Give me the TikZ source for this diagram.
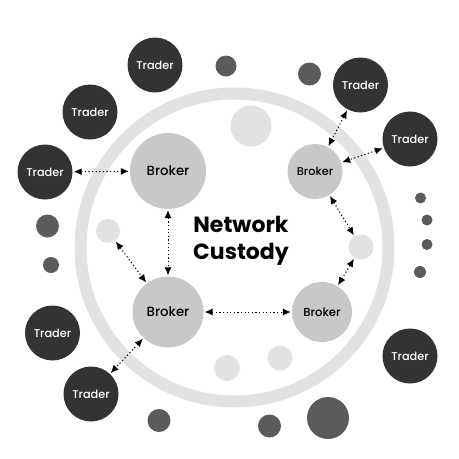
\documentclass[tikz,border=0pt]{standalone}
\usepackage{fontspec}
\setmainfont{Poppins}
\IfFontExistsTF{Poppins Medium}{\newfontfamily\lblfont{Poppins Medium}}{\newfontfamily\lblfont{Poppins}[FakeBold=1.5]}
\newfontfamily\ttlfont{Poppins Bold}
\usetikzlibrary{arrows.meta}
\definecolor{tdark}{HTML}{333333}
\definecolor{bgray}{HTML}{C8C8C8}
\definecolor{mgray}{HTML}{5B5B5B}
\definecolor{lgray}{HTML}{E2E2E2}
\begin{document}
\begin{tikzpicture}[x=1pt,y=-1pt,
  trader/.style={circle,fill=tdark,minimum size=55pt,inner sep=0pt,text=white,font=\lblfont\fontsize{11.3}{13}\selectfont},
  brokerbox/.style={circle,fill=bgray,inner sep=0pt,text=black},
  dotm/.style={circle,fill=mgray,inner sep=0pt},
  dotl/.style={circle,fill=lgray,inner sep=0pt},
  link/.style={{Latex[length=8pt,width=7pt]}-{Latex[length=8pt,width=7pt]},dash pattern=on 1.2pt off 2.4pt,line width=1pt,shorten <=1pt,shorten >=1pt}
]
\useasboundingbox[fill=white] (0,0) rectangle (459,459);
% ring
\draw[lgray,line width=12pt] (234.5,247.5) circle (154pt);
% light decorative circles
\node[dotl,minimum size=41pt] (l1) at (251,126) {};
\node[dotl,minimum size=24pt] (l2) at (108,231) {};
\node[dotl,minimum size=25pt] (l3) at (361,247) {};
\node[dotl,minimum size=26pt] (l4) at (227,368) {};
\node[dotl,minimum size=25pt] (l5) at (280,358) {};
% mid-gray decorative circles
\node[dotm,minimum size=21pt] (m1) at (226,66) {};
\node[dotm,minimum size=23pt] (m2) at (309.5,74) {};
\node[dotm,minimum size=11pt] (m3) at (420.5,198) {};
\node[dotm,minimum size=11pt] (m4) at (427,220) {};
\node[dotm,minimum size=11pt] (m5) at (427,244.5) {};
\node[dotm,minimum size=12pt] (m6) at (420,272) {};
\node[dotm,minimum size=23pt] (m7) at (47.5,226) {};
\node[dotm,minimum size=16pt] (m8) at (51,265) {};
\node[dotm,minimum size=23pt] (m9) at (159,420.5) {};
\node[dotm,minimum size=23pt] (m10) at (269.5,426) {};
\node[dotm,minimum size=42pt] (m11) at (328,418) {};
% brokers
\node[brokerbox,minimum size=76pt,font=\lblfont\fontsize{13.3}{15}\selectfont] (b1) at (168,171) {Broker};
\node[brokerbox,minimum size=55pt,font=\lblfont\fontsize{11.3}{13}\selectfont] (b2) at (315,171.5) {Broker};
\node[brokerbox,minimum size=71pt,font=\lblfont\fontsize{13.3}{15}\selectfont] (b3) at (168,312) {Broker};
\node[brokerbox,minimum size=60pt,font=\lblfont\fontsize{11.6}{13}\selectfont] (b4) at (322,312) {Broker};
% traders
\node[trader] (t1) at (155,65) {Trader};
\node[trader] (t2) at (90,112) {Trader};
\node[trader] (t3) at (45,172) {Trader};
\node[trader] (t4) at (360.5,85) {Trader};
\node[trader] (t5) at (410,139) {Trader};
\node[trader] (t6) at (52.5,333) {Trader};
\node[trader] (t7) at (91,394) {Trader};
\node[trader] (t8) at (410,356) {Trader};
% title
\node[align=center,font=\ttlfont\fontsize{22}{27}\selectfont] (title) at (241,241) {Network\\Custody};
% connectors
\draw[link] (t3) -- (b1);
\draw[link] (b1) -- (b3);
\draw[link] (b3) -- (b4);
\draw[link] (l2) -- (b3);
\draw[link] (b3) -- (t7);
\draw[link] (t4) -- (b2);
\draw[link] (t5) -- (b2);
\draw[link] (b2) -- (l3);
\draw[link] (b4) -- (l3);
\end{tikzpicture}
\end{document}
